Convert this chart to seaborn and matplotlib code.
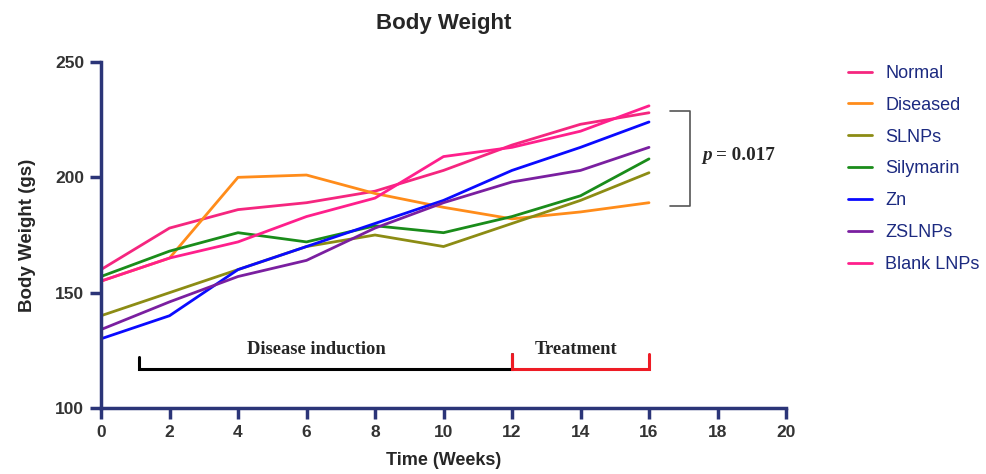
import pandas as pd
import matplotlib.pyplot as plt
import seaborn as sns
from matplotlib.lines import Line2D

# === Data ===
weeks = [0, 2, 4, 6, 8, 10, 12, 14, 16]
groups = ['Normal', 'Diseased', 'SLNPs', 'Silymarin', 'Zn', 'ZSLNPs', 'Blank LNPs']
normal = [160, 178, 186, 189, 194, 203, 214, 223, 228]
diseased = [155, 165, 200, 201, 193, 187, 182, 185, 189]
slnps = [140, 150, 160, 170, 175, 170, 180, 190, 202]
silymarin = [157, 168, 176, 172, 179, 176, 183, 192, 208]
zn = [130, 140, 160, 170, 180, 190, 203, 213, 224]
zslnps = [134, 146, 157, 164, 178, 189, 198, 203, 213]
blank_lnps = [155, 165, 172, 183, 191, 209, 213, 220, 231]

# period brackets / stats
induction_span = [1.1, 12]
treatment_span = [12, 16]
p_text = '= 0.017'

# Colors
colors = ['#f5267f', '#ff8c1a', '#8c8c14', '#1a8c1a', '#0a0aff', '#7a1fa0', '#ff1f8c']
navy = '#2b3578'

series = [normal, diseased, slnps, silymarin, zn, zslnps, blank_lnps]
df = pd.DataFrame({
    'Week': weeks * len(groups),
    'Weight': sum(series, []),
    'Group': [g for g in groups for _ in weeks],
})

sns.set_style('white')
plt.rcParams['font.family'] = ['Liberation Sans', 'DejaVu Sans']

fig = plt.figure(figsize=(9.87, 4.74), dpi=100)
ax = fig.add_axes([101 / 987, 1 - 408 / 474, (786 - 101) / 987, (408 - 62) / 474])

sns.lineplot(data=df, x='Week', y='Weight', hue='Group', hue_order=groups,
             palette=colors, linewidth=2, ax=ax, legend=False)

ax.set_xlim(0, 20)
ax.set_ylim(100, 250)
ax.set_xticks(range(0, 21, 2))
ax.set_yticks([100, 150, 200, 250])
for side in ['top', 'right']:
    ax.spines[side].set_visible(False)
for side in ['left', 'bottom']:
    ax.spines[side].set_color(navy)
    ax.spines[side].set_linewidth(2.5)
ax.tick_params(axis='both', direction='out', length=8, width=2.5, color=navy,
               bottom=True, left=True, labelsize=12.5, labelcolor='#333333', pad=4)
for lab in ax.get_xticklabels() + ax.get_yticklabels():
    lab.set_fontweight('bold')

ax.set_xlabel('Time (Weeks)', fontsize=13, fontweight='bold', labelpad=9)
ax.set_ylabel('Body Weight (gs)', fontsize=13.5, fontweight='bold', labelpad=14)
fig.text(444 / 987, 1 - 23 / 474, 'Body Weight', ha='center', va='center',
         fontsize=16, fontweight='bold')

# Disease induction / treatment brackets
serif = ['Liberation Serif', 'DejaVu Serif']
y0, y1 = 117, 122
ax.plot([induction_span[0], induction_span[0], induction_span[1], induction_span[1]],
        [y1, y0, y0, y1 + 1.5], color='black', lw=2.2, solid_joinstyle='miter')
ax.plot([treatment_span[0], treatment_span[0], treatment_span[1], treatment_span[1]],
        [y1 + 1.5, y0, y0, y1 + 1.5], color='#ee1c25', lw=2.2, solid_joinstyle='miter')
ax.text(6.28, 125.5, 'Disease induction', ha='center', va='center',
        fontsize=13.3, fontweight='bold', family=serif)
ax.text(13.87, 125.5, 'Treatment', ha='center', va='center',
        fontsize=13.3, fontweight='bold', family=serif)

# p-value bracket
ax.plot([16.6, 17.2, 17.2, 16.6], [228.6, 228.6, 187.4, 187.4], color='#555555', lw=1.2)
ax.text(17.55, 209.5, 'p', ha='left', va='center', fontsize=13.8,
        fontweight='bold', fontstyle='italic', family=serif)
ax.text(17.97, 209.5, p_text, ha='left', va='center', fontsize=13.8,
        fontweight='bold', family=serif)

# Legend
handles = [Line2D([0], [0], color=c, lw=2) for c in colors]
fig.legend(handles, groups, loc='upper left', bbox_to_anchor=(848 / 987, 1 - 65 / 474),
           frameon=False, fontsize=13, labelcolor='#1c2a80', handlelength=1.35,
           handletextpad=0.7, labelspacing=0.82, borderaxespad=0, borderpad=0)

fig.savefig('out.png', dpi=100)
